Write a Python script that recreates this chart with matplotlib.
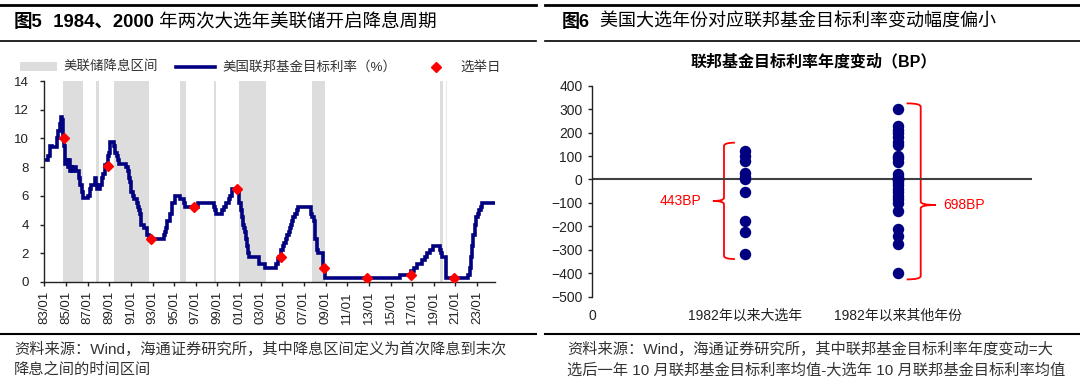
import matplotlib
matplotlib.use("Agg")
import matplotlib.pyplot as plt
from matplotlib.lines import Line2D
from matplotlib.patches import Rectangle, PathPatch
from matplotlib.path import Path

plt.rcParams["font.family"] = ["Liberation Sans", "Noto Sans CJK SC"]

# ---- data: fed funds target rate (change month, new level %) ----
rate_dates = [
    "1983-01", "1983-05", "1983-07", "1983-09", "1984-03", "1984-04", "1984-06", "1984-07",
    "1984-09", "1984-10", "1984-11", "1984-12", "1985-01", "1985-03", "1985-04", "1985-05",
    "1985-07", "1985-08", "1985-10", "1985-12", "1986-03", "1986-04", "1986-07", "1986-08",
    "1987-01", "1987-04", "1987-05", "1987-09", "1987-10", "1987-11", "1988-03", "1988-05",
    "1988-06", "1988-08", "1988-11", "1988-12", "1989-01", "1989-02", "1989-06", "1989-07",
    "1989-10", "1989-11", "1989-12", "1990-07", "1990-10", "1990-11", "1990-12", "1991-01",
    "1991-03", "1991-04", "1991-08", "1991-09", "1991-10", "1991-11", "1991-12", "1992-04",
    "1992-07", "1992-09", "1994-02", "1994-03", "1994-04", "1994-05", "1994-08", "1994-11",
    "1995-02", "1995-07", "1995-12", "1996-01", "1997-03", "1998-09", "1998-10", "1998-11",
    "1999-06", "1999-08", "1999-11", "2000-02", "2000-03", "2000-05", "2001-01", "2001-03",
    "2001-04", "2001-05", "2001-06", "2001-08", "2001-09", "2001-10", "2001-11", "2001-12",
    "2002-11", "2003-06", "2004-06", "2004-08", "2004-09", "2004-11", "2004-12", "2005-02",
    "2005-03", "2005-05", "2005-06", "2005-08", "2005-09", "2005-11", "2005-12", "2006-01",
    "2006-03", "2006-05", "2006-06", "2007-09", "2007-10", "2007-12", "2008-01", "2008-03",
    "2008-04", "2008-10", "2008-12", "2015-12", "2016-12", "2017-03", "2017-06", "2017-12",
    "2018-03", "2018-06", "2018-09", "2018-12", "2019-08", "2019-09", "2019-10", "2020-03",
    "2022-03", "2022-05", "2022-06", "2022-07", "2022-09", "2022-11", "2022-12", "2023-02",
    "2023-03", "2023-05", "2023-07", "2024-08",
]
rate_values = [
    8.50, 8.75, 9.50, 9.375, 10.00, 10.50, 11.00, 11.50,
    11.25, 10.00, 9.50, 8.25, 8.50, 8.00, 8.50, 7.75,
    8.00, 7.75, 8.00, 7.75, 7.25, 6.75, 6.25, 5.875,
    6.00, 6.50, 6.75, 7.25, 6.75, 6.50, 6.75, 7.25,
    7.50, 8.125, 8.25, 8.75, 9.00, 9.75, 9.50, 9.00,
    8.75, 8.50, 8.25, 8.00, 7.75, 7.25, 7.00, 6.25,
    6.00, 5.75, 5.50, 5.25, 5.00, 4.75, 4.00, 3.75,
    3.25, 3.00, 3.25, 3.50, 3.75, 4.25, 4.75, 5.50,
    6.00, 5.75, 5.50, 5.25, 5.50, 5.25, 5.00, 4.75,
    5.00, 5.25, 5.50, 5.75, 6.00, 6.50, 5.50, 5.00,
    4.50, 4.00, 3.75, 3.50, 3.00, 2.50, 2.00, 1.75,
    1.25, 1.00, 1.25, 1.50, 1.75, 2.00, 2.25, 2.50,
    2.75, 3.00, 3.25, 3.50, 3.75, 4.00, 4.25, 4.50,
    4.75, 5.00, 5.25, 4.75, 4.50, 4.25, 3.00, 2.25,
    2.00, 1.00, 0.25, 0.50, 0.75, 1.00, 1.25, 1.50,
    1.75, 2.00, 2.25, 2.50, 2.25, 2.00, 1.75, 0.25,
    0.50, 1.00, 1.75, 2.50, 3.25, 4.00, 4.50, 4.75,
    5.00, 5.25, 5.50, 5.50,
]

# rate-cut periods (start, end, decimal years)
cut_starts = [1984.69, 1987.81, 1989.43, 1995.51, 1998.69, 2000.99, 2007.70, 2019.57, 2020.15]
cut_ends = [1986.60, 1988.06, 1992.65, 1996.09, 1998.89, 2003.47, 2008.94, 2019.83, 2020.25]

# election days
elect_x = [1984.85, 1988.85, 1992.84, 1996.85, 2000.85, 2004.84, 2008.84, 2012.85, 2016.85, 2020.84]
elect_y = [10.0, 8.1, 3.0, 5.25, 6.5, 1.75, 1.0, 0.25, 0.5, 0.25]

xtick_years = list(range(1983, 2024, 2))

# yearly fed funds change (BP)
elect_bp = [123, 100, 78, 26, 10, 0, -53, -176, -226, -320]
other_bp = [300, 228, 212, 197, 180, 162, 148, 100, 92, 75, 25, 10, 0, 0, 0, 0,
            -12, -25, -40, -55, -70, -85, -100, -133, -212, -243, -275, -398]
group_labels = ["0", "1982年以来大选年", "1982年以来其他年份"]

NAVY = "#000080"
W, H = 1080, 384


def fx(x):
    return x / W


def fy(y):
    return 1 - y / H


def to_year(s):
    y, m = s.split("-")
    return int(y) + (int(m) - 1) / 12


fig = plt.figure(figsize=(W / 100, H / 100), dpi=100)
renderer = fig.canvas.get_renderer()


def put_pieces(x, y, pieces, size):
    for s, w in pieces:
        t = fig.text(fx(x), fy(y), s, fontsize=size, fontweight=w, va="center", ha="left", color="black")
        x += t.get_window_extent(renderer=renderer).width


def hline(x0, x1, y, lw):
    fig.add_artist(Line2D([fx(x0), fx(x1)], [fy(y), fy(y)], transform=fig.transFigure, color="black", lw=lw))


# ---- frame / titles ----
hline(0, 536, 4.8, 2.0)
hline(0, 536, 41, 1.2)
hline(0, 536, 334, 1.5)
hline(545, 1080, 4.8, 2.0)
hline(545, 1080, 41, 1.2)
hline(545, 1080, 334, 1.5)

put_pieces(14, 22.5, [("图5", "bold"), ("  1984、2000", "bold"), (" 年两次大选年美联储开启降息周期", "normal")], 13.3)
put_pieces(562, 22.5, [("图6", "bold"), ("  美国大选年份对应联邦基金目标利率变动幅度偏小", "normal")], 13)

src_kw = dict(fontsize=11, color="#333333", va="center", ha="left")
fig.text(fx(14), fy(349), "资料来源：Wind，海通证券研究所，其中降息区间定义为首次降息到末次", **src_kw)
fig.text(fx(14), fy(370), "降息之间的时间区间", **src_kw)
fig.text(fx(567), fy(349), "资料来源：Wind，海通证券研究所，其中联邦基金目标利率年度变动=大", **src_kw)
fig.text(fx(567), fy(370), "选后一年 10 月联邦基金目标利率均值-大选年 10 月联邦基金目标利率均值", **src_kw)

# ---- left chart ----
ax1 = fig.add_axes([fx(44.4), fy(282), fx(495) - fx(44.4), fy(81) - fy(282)])
for s, e in zip(cut_starts, cut_ends):
    c = "#E8E8E8" if s > 2020 else "#DDDDDD"
    ax1.axvspan(s, e, color=c, lw=0, zorder=0)
xs = [to_year(d) for d in rate_dates]
ax1.plot(xs, rate_values, color=NAVY, lw=2.6, drawstyle="steps-post", zorder=2, solid_joinstyle="miter")
ax1.plot(elect_x, elect_y, "D", color="red", ms=5.5, mec="red", zorder=3)
ax1.set_xlim(1983, 2024.66)
ax1.set_ylim(0, 14)
ax1.set_yticks(range(0, 15, 2))
ax1.set_xticks(xtick_years)
ax1.set_xticklabels(["%02d/01" % (y % 100) for y in xtick_years], rotation=90)
for sp in ["top", "right"]:
    ax1.spines[sp].set_visible(False)
for sp in ["left", "bottom"]:
    ax1.spines[sp].set_color("#222222")
    ax1.spines[sp].set_linewidth(1.0)
ax1.tick_params(axis="both", length=3, width=1.0, color="#222222", labelsize=9.5, labelcolor="#222222")
ax1.tick_params(axis="y", pad=8)
ax1.patch.set_alpha(0)

# legend drawn by hand
fig.add_artist(Rectangle((fx(20), fy(71)), fx(57) - fx(20), fy(62) - fy(71), transform=fig.transFigure,
                         color="#DDDDDD", lw=0))
fig.add_artist(Line2D([fx(176), fx(215)], [fy(67), fy(67)], transform=fig.transFigure, color=NAVY, lw=2.6))
fig.add_artist(Line2D([fx(436)], [fy(67)], transform=fig.transFigure, marker="D", color="red", ms=5.5))
leg_kw = dict(fontsize=9.7, color="#333333", va="center", ha="left")
fig.text(fx(63.5), fy(67), "美联储降息区间", **leg_kw)
fig.text(fx(222), fy(67), "美国联邦基金目标利率（%）", **leg_kw)
fig.text(fx(460), fy(67), "选举日", **leg_kw)

# ---- right chart ----
ax2 = fig.add_axes([fx(592.3), fy(296.5), fx(1032) - fx(592.3), fy(85.8) - fy(296.5)])
ax2.scatter([1] * len(elect_bp), elect_bp, s=68, color=NAVY, lw=0, zorder=3)
ax2.scatter([2] * len(other_bp), other_bp, s=68, color=NAVY, lw=0, zorder=3)
ax2.axhline(0, color="#404040", lw=1.5, zorder=2)
ax2.set_xlim(0, 2.88)
ax2.set_ylim(-500, 400)
ax2.set_yticks(range(-500, 401, 100))
ax2.set_xticks([0, 1, 2])
ax2.set_xticklabels(group_labels)
for sp in ["top", "right", "bottom"]:
    ax2.spines[sp].set_visible(False)
ax2.spines["left"].set_color("#222222")
ax2.spines["left"].set_linewidth(1.0)
ax2.tick_params(axis="y", length=3, width=1.0, color="#222222", labelsize=10, labelcolor="#222222", pad=4)
ax2.tick_params(axis="x", length=0, labelsize=10, labelcolor="#222222", pad=9)
ax2.patch.set_alpha(0)
fig.text(fx(814), fy(62), "联邦基金目标利率年度变动（BP）", fontsize=11.5, fontweight="bold",
         ha="center", va="center", color="black")


def brace(ax, xv, xhook, xtip, top, bottom, ytip, r=14):
    verts = [(xhook, top), (xv, top), (xv, top - r),
             (xv, ytip + r), (xv, ytip), (xtip, ytip),
             (xv, ytip), (xv, ytip - r),
             (xv, bottom + r), (xv, bottom), (xhook, bottom)]
    codes = [Path.MOVETO, Path.CURVE3, Path.CURVE3,
             Path.LINETO, Path.CURVE3, Path.CURVE3,
             Path.CURVE3, Path.CURVE3,
             Path.LINETO, Path.CURVE3, Path.CURVE3]
    ax.add_patch(PathPatch(Path(verts, codes), fill=False, edgecolor="red", lw=1.3, clip_on=False))


brace(ax2, 0.8625, 0.934, 0.790, 157, -340, -92)
brace(ax2, 2.151, 2.059, 2.250, 325, -427, -109)
ax2.text(0.717, -92, "443BP", color="red", fontsize=10, ha="right", va="center")
ax2.text(2.30, -109, "698BP", color="red", fontsize=10, ha="left", va="center")

fig.savefig("out.png", dpi=100)
